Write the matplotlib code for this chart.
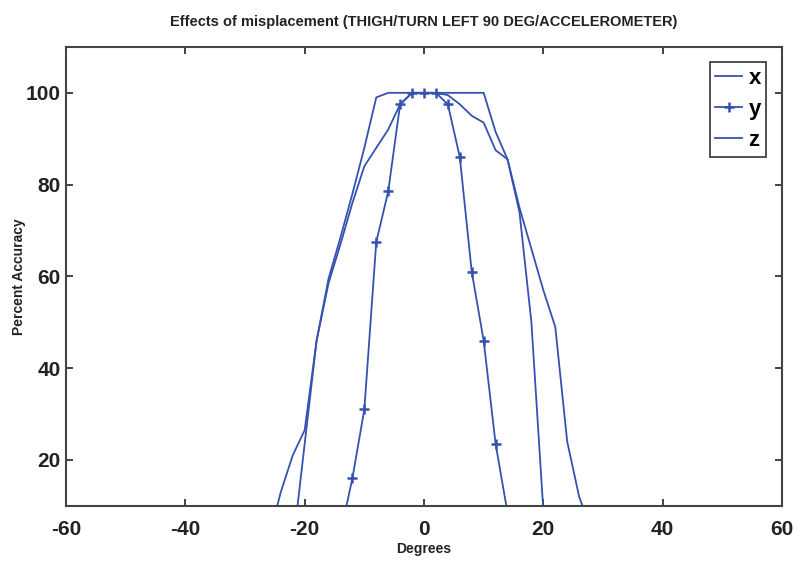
import matplotlib.pyplot as plt

# misplacement angle (degrees) and accuracy (%) per axis
deg_x = [-26, -24, -22, -20, -18, -16, -14, -12, -10, -8, -6, -4, -2, 0, 2, 4, 6, 8, 10,
         12, 14, 16, 18, 20, 22, 24, 26, 28]
acc_x = [3, 13, 21, 26.5, 46, 59.5, 68.5, 78, 88, 99, 100, 100, 100, 100, 100, 100, 100, 100, 100,
         91.5, 85.5, 75, 66, 57, 49, 24, 12, 5]

deg_y = [-14, -12, -10, -8, -6, -4, -2, 0, 2, 4, 6, 8, 10, 12, 14]
acc_y = [4, 16, 31, 67.5, 78.5, 97.5, 100, 100, 100, 97.5, 86, 61, 46, 23.5, 8.5]

deg_z = [-22, -20, -18, -16, -14, -12, -10, -8, -6, -4, -2, 0, 2, 4, 6, 8, 10, 12,
         14, 16, 18, 20]
acc_z = [1, 23.5, 46, 58.5, 67, 76, 84, 88, 92, 97.5, 100, 100, 100, 99.5, 97.5, 95, 93.5, 87.5,
         85.5, 74, 50, 9]

plt.rcParams['font.family'] = ['Liberation Sans', 'DejaVu Sans']
plt.rcParams['font.weight'] = 'bold'
plt.rcParams['axes.unicode_minus'] = False

fig = plt.figure(figsize=(8, 5.69), dpi=100)
ax = fig.add_axes([0.0825, 0.111, 0.895, 0.8065])

blue = '#3552b0'
ax.plot(deg_x, acc_x, color=blue, lw=1.3, label='x')
ax.plot(deg_y, acc_y, color=blue, lw=1.3, marker='+', markersize=7, markeredgewidth=1.8, label='y')
ax.plot(deg_z, acc_z, color=blue, lw=1.3, label='z')

ax.set_xlim(-60, 60)
ax.set_ylim(10, 110)
ax.set_xticks([-60, -40, -20, 0, 20, 40, 60])
ax.set_yticks([20, 40, 60, 80, 100])
ax.tick_params(direction='in', length=5, width=1.2, top=True, right=True,
               labelsize=15, colors='#222222')
ax.tick_params(axis='x', pad=10)
ax.tick_params(axis='y', pad=4)
for sp in ax.spines.values():
    sp.set_color('#444444')
    sp.set_linewidth(1.5)

ax.set_title('Effects of misplacement (THIGH/TURN LEFT 90 DEG/ACCELEROMETER)',
             fontsize=10.5, fontweight='bold', color='#222222', pad=15)
ax.set_xlabel('Degrees', fontsize=10, fontweight='bold', color='#222222', labelpad=2)
ax.set_ylabel('Percent Accuracy', fontsize=10, fontweight='bold', color='#222222')
ax.yaxis.set_label_coords(-0.056, 0.5)

leg = ax.legend(loc='upper right', fontsize=16, handlelength=1.2, handletextpad=0.3,
                borderaxespad=0.7, labelspacing=0.45, fancybox=False, framealpha=1,
                borderpad=0.25)
leg.get_frame().set_edgecolor('#333333')
leg.get_frame().set_linewidth(1.2)

fig.savefig('out.png', dpi=100)
